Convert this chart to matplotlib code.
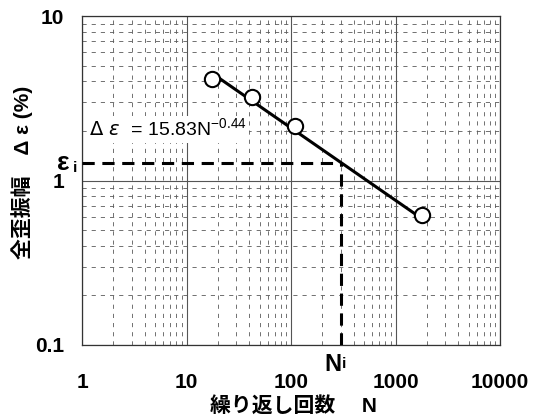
import numpy as np
import matplotlib
matplotlib.use("Agg")
import matplotlib.pyplot as plt
from matplotlib.ticker import LogLocator, NullFormatter, FixedLocator

# data
cycles = [17.5, 42, 109, 1795]          # N
strain = [4.14, 3.2, 2.14, 0.617]       # delta epsilon (%)
fit_a, fit_b = 15.83, -0.44
eps_i = 1.28
xticks = [1, 10, 100, 1000, 10000]
xticklabels = ["1", "10", "100", "1000", "10000"]
yticks = [0.1, 1, 10]
yticklabels = ["0.1", "1", "10"]

FONTS = ["Liberation Sans", "Noto Sans CJK JP", "DejaVu Sans"]
plt.rcParams["font.family"] = FONTS

fig = plt.figure(figsize=(5.39, 4.17), dpi=100)
fig.patch.set_facecolor("white")
ax = fig.add_axes([82 / 539, 1 - 345 / 417, 418 / 539, 329 / 417])
ax.set_xscale("log"); ax.set_yscale("log")
ax.set_xlim(1, 10000); ax.set_ylim(0.1, 10)

# grid: solid decades, dashed minor
ax.xaxis.set_minor_locator(LogLocator(base=10, subs=np.arange(2, 10)))
ax.yaxis.set_minor_locator(LogLocator(base=10, subs=np.arange(2, 10)))
ax.xaxis.set_minor_formatter(NullFormatter())
ax.yaxis.set_minor_formatter(NullFormatter())
ax.grid(which="major", color="#555555", lw=0.8, ls="-")
ax.grid(which="minor", color="#5a5a5a", lw=0.6, ls=(0, (5, 6)))
ax.set_axisbelow(True)

# fit line through data range
nfit = np.array([cycles[0], cycles[-1]])
ax.plot(nfit, fit_a * nfit ** fit_b, color="black", lw=2.2, zorder=3)
ax.plot(cycles, strain, ls="none", marker="o", ms=11, mfc="white",
        mec="black", mew=1.5, zorder=4)

# eps_i / N_i construction
n_i = (eps_i / fit_a) ** (1 / fit_b)
ax.plot([1, n_i], [eps_i, eps_i], color="black", lw=2.2, ls=(0, (4, 2.5)), zorder=3)
ax.plot([n_i, n_i], [0.1, eps_i], color="black", lw=2.2, ls=(0, (4, 2.5)), zorder=3)

ax.text(1.17, 2.05, r"$\Delta\ \varepsilon\ $ = 15.83N$^{\mathregular{-0.44}}$",
        fontsize=14, color="black", ha="left", va="center", zorder=5,
        bbox=dict(facecolor="white", edgecolor="none", pad=1.5))

ax.xaxis.set_major_locator(FixedLocator(xticks))
ax.yaxis.set_major_locator(FixedLocator(yticks))
ax.set_xticklabels(xticklabels, fontsize=15, fontweight="bold")
ax.set_yticklabels(yticklabels, fontsize=15, fontweight="bold")
ax.tick_params(which="both", length=0)
ax.tick_params(axis="x", pad=20)
ax.tick_params(axis="y", pad=13)
for s in ax.spines.values():
    s.set_color("#333333"); s.set_linewidth(0.9)

# labels
ax.text(-0.03, eps_i, "ε", transform=ax.get_yaxis_transform(), fontsize=19,
        fontweight="bold", ha="right", va="center")
ax.text(-0.012, eps_i * 0.93, "i", transform=ax.get_yaxis_transform(), fontsize=11,
        fontweight="bold", ha="right", va="center")
ax.text(n_i * 1.0, -0.06, "N", transform=ax.get_xaxis_transform(), fontsize=17,
        fontweight="bold", ha="right", va="center")
ax.text(n_i * 1.02, -0.058, "i", transform=ax.get_xaxis_transform(), fontsize=11,
        fontweight="bold", ha="left", va="center")

fig.text(293 / 539, 1 - 406 / 417, "繰り返し回数　 N", fontsize=15, fontweight="bold",
         ha="center", va="center")
fig.text(22 / 539, 1 - 172 / 417, "全歪振幅　Δ ε (%)", fontsize=15, fontweight="bold",
         ha="center", va="center", rotation=90)

fig.savefig("out.png", dpi=100, facecolor="white")
